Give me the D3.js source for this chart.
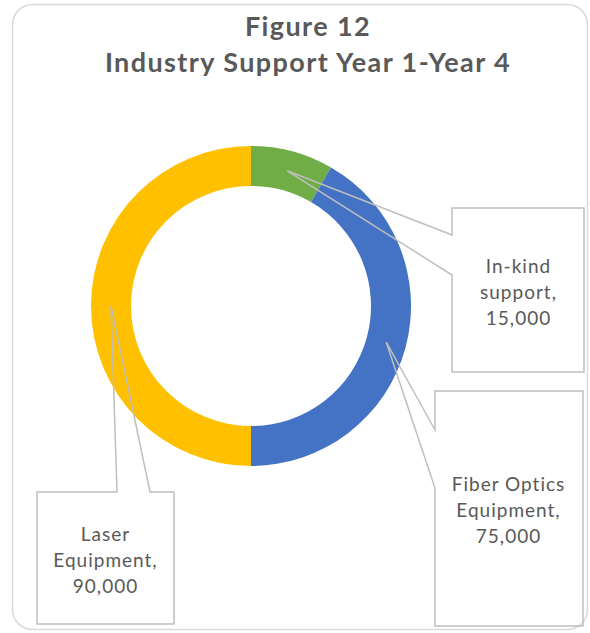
<!DOCTYPE html>
<html>
<head>
<meta charset="utf-8">
<script src="https://cdn.jsdelivr.net/npm/d3@7"></script>
<style>
  body { margin: 0; background: #fff; }
  svg { display: block; }
</style>
</head>
<body>
<svg id="chart" width="590" height="633"></svg>
<script>
// data
const categories = ["In-kind support", "Fiber Optics Equipment", "Laser Equipment"];
const values = [15000, 75000, 90000];
const colors = ["#70ad47", "#4472c4", "#ffc000"];
const labelLines = [
  ["In-kind", "support,"],
  ["Fiber Optics", "Equipment,"],
  ["Laser", "Equipment,"]
];
const titleLines = ["Figure 12", "Industry Support Year 1-Year 4"];

// label callout boxes (layout only): box + where the pointer leaves the box
const callouts = [
  { x: 452, y: 208, w: 132, h: 164, side: "left", p0: 235, p1: 275, tx: 518, ty: 265 },
  { x: 435, y: 391, w: 148, h: 235, side: "left", p0: 430, p1: 488, tx: 508, ty: 483 },
  { x: 37, y: 492, w: 137, h: 132, side: "top", p0: 117, p1: 150, tx: 105, ty: 533 }
];

const svg = d3.select("#chart");
const textColor = "#595959";
const lineColor = "#bfbfbf";
const cx = 251, cy = 306;
const outerR = 160, innerR = 120;

// chart frame
svg.append("rect")
  .attr("x", 12.5).attr("y", 4.5)
  .attr("width", 575).attr("height", 625)
  .attr("rx", 20).attr("ry", 20)
  .attr("fill", "#fff")
  .attr("stroke", "#d9d9d9")
  .attr("stroke-width", 1.5);

// title
svg.append("text")
  .attr("x", 307).attr("y", 36)
  .attr("text-anchor", "middle")
  .style("font-family", "Lato")
  .style("font-weight", "bold")
  .style("font-size", "27px")
  .style("letter-spacing", "1.4px")
  .style("fill", textColor)
  .selectAll("tspan")
  .data(titleLines)
  .enter()
  .append("tspan")
  .attr("x", 308)
  .attr("dy", (d, i) => i === 0 ? 0 : 36)
  .text(d => d);

// donut
const pie = d3.pie().sort(null).value(d => d);
const arcs = pie(values);
const arc = d3.arc().innerRadius(innerR).outerRadius(outerR);
const midArc = d3.arc().innerRadius(140).outerRadius(140);

const g = svg.append("g").attr("transform", `translate(${cx},${cy})`);
g.selectAll("path")
  .data(arcs)
  .enter()
  .append("path")
  .attr("d", arc)
  .attr("fill", (d, i) => colors[i]);

// callouts
const fmt = d3.format(",");
callouts.forEach((c, i) => {
  const [ax, ay] = midArc.centroid(arcs[i]);
  const px = ax + cx, py = ay + cy;
  let path;
  if (c.side === "left") {
    path = `M${c.x},${c.p0} L${px},${py} L${c.x},${c.p1} L${c.x},${c.y + c.h}` +
      ` L${c.x + c.w},${c.y + c.h} L${c.x + c.w},${c.y} L${c.x},${c.y} Z`;
  } else {
    path = `M${c.p0},${c.y} L${px},${py} L${c.p1},${c.y} L${c.x + c.w},${c.y}` +
      ` L${c.x + c.w},${c.y + c.h} L${c.x},${c.y + c.h} L${c.x},${c.y} Z`;
  }
  svg.append("path")
    .attr("d", path)
    .attr("fill", "none")
    .attr("stroke", lineColor)
    .attr("stroke-width", 1.5);

  const lines = labelLines[i].concat([fmt(values[i])]);
  svg.append("text")
    .attr("text-anchor", "middle")
    .attr("dominant-baseline", "central")
    .style("font-family", "Lato")
    .style("font-size", "19px")
    .style("letter-spacing", "1px")
    .style("fill", textColor)
    .selectAll("tspan")
    .data(lines)
    .enter()
    .append("tspan")
    .attr("x", c.tx + 0.5)
    .attr("y", (d, j) => c.ty + j * 26)
    .text(d => d);
});
</script>
</body>
</html>
